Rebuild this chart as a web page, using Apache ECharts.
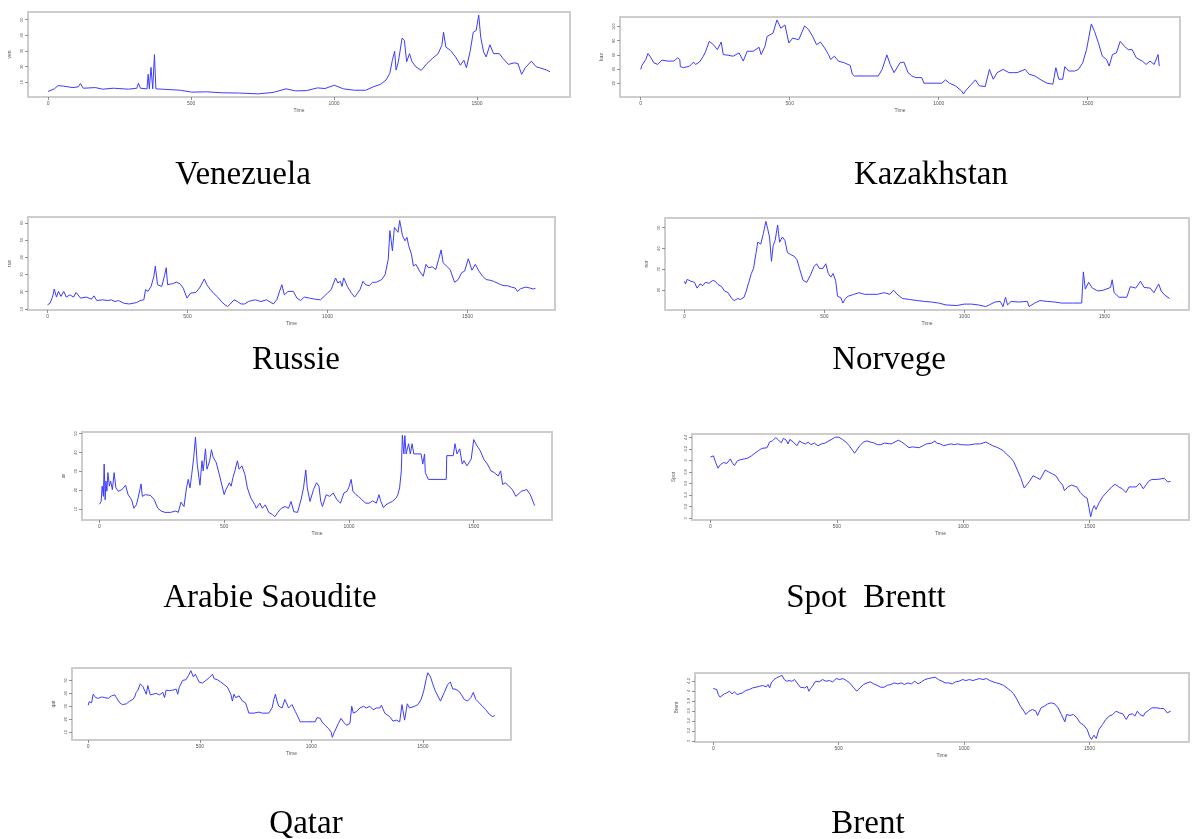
<!DOCTYPE html>
<html><head><meta charset="utf-8">
<script src="https://cdn.jsdelivr.net/npm/echarts@6/dist/echarts.min.js"></script>
<style>html,body{margin:0;padding:0;background:#fff}#c{width:1192px;height:839px}</style>
</head><body><div id="c"></div>
<script>
// ---- data: [time index, value] ----
const venezuela = [[0,4.1],[22,5.8],[35,7.9],[54,7.5],[87,6.6],[106,7.1],[113,9.2],[123,6.2],[165,6.6],[169,7.1],[191,5.6],[229,6.2],[281,5.6],[310,6.2],[316,9.4],[323,6.2],[346,5.8],[350,15.1],[354,5.8],[360,19.5],[366,5.8],[372,27.7],[377,5.8],[398,5.6],[463,4.9],[502,3.7],[554,3.9],[605,3.3],[670,3.1],[735,2.6],[787,3.5],[832,5.8],[865,4.5],[904,4.7],[942,6.4],[968,6.0],[1001,8.1],[1033,5.8],[1072,4.9],[1111,4.9],[1137,7.1],[1163,8.7],[1182,11.5],[1195,15.7],[1204,24.1],[1212,29.8],[1217,17.8],[1225,23.1],[1238,38.2],[1246,36.7],[1254,23.1],[1264,28.3],[1273,23.1],[1286,19.9],[1305,17.6],[1325,22.0],[1344,25.2],[1364,28.3],[1377,33.6],[1383,42.0],[1391,32.5],[1407,30.4],[1425,26.2],[1442,20.9],[1454,24.1],[1463,19.3],[1476,29.8],[1487,42.0],[1497,43.1],[1506,52.9],[1513,38.8],[1523,29.4],[1532,26.2],[1545,34.0],[1558,28.3],[1578,28.3],[1591,25.2],[1610,21.4],[1630,22.4],[1643,22.0],[1656,15.1],[1669,19.3],[1690,23.5],[1707,19.9],[1727,18.8],[1744,17.8],[1755,16.7]];
const kazakhstan = [[0,39.5],[4,45.1],[17,53.5],[24,61.9],[31,58.1],[44,48.8],[57,46.5],[71,52.6],[91,51.2],[111,51.2],[124,55.8],[131,53.5],[133,43.3],[144,41.9],[164,44.2],[177,49.8],[184,46.5],[197,49.8],[210,58.1],[217,64.2],[230,79.1],[244,74.4],[257,67.4],[270,78.1],[277,60.5],[293,59.5],[310,58.1],[330,62.8],[344,51.2],[357,65.1],[377,65.1],[397,70.7],[404,60.5],[417,72.1],[424,86.0],[444,90.7],[457,109.3],[470,97.7],[484,102.3],[497,76.7],[510,83.7],[530,81.4],[550,100.9],[564,95.3],[577,86.0],[590,74.4],[603,78.1],[617,69.8],[630,60.5],[637,53.5],[650,58.1],[663,51.2],[683,48.8],[703,45.1],[710,32.6],[717,30.2],[757,30.2],[797,30.2],[810,39.5],[826,60.0],[837,46.5],[850,34.9],[870,48.8],[883,49.8],[897,34.9],[910,30.2],[923,27.9],[943,27.9],[950,20],[1010,20],[1023,24.7],[1036,20],[1056,16.3],[1076,9.3],[1083,4.7],[1090,9.3],[1110,18.6],[1123,24.7],[1136,16.3],[1156,15.3],[1170,39.5],[1183,25.6],[1196,34.9],[1216,39.5],[1236,34.9],[1250,34.9],[1263,34.9],[1290,39.5],[1303,32.6],[1323,30.2],[1343,24.7],[1363,20],[1383,18.6],[1393,41.9],[1403,25.6],[1416,25.6],[1423,43.3],[1436,37.2],[1456,37.2],[1469,39.5],[1483,48.8],[1496,67.4],[1512,103.7],[1523,93.0],[1536,76.7],[1549,58.1],[1563,53.5],[1572,44.2],[1583,60.5],[1596,62.8],[1609,79.1],[1623,72.1],[1636,67.4],[1649,67.4],[1663,55.8],[1683,51.2],[1696,46.5],[1709,51.2],[1723,46.5],[1736,60.5],[1740,44.2]];
const russie = [[0,12.4],[9,13.3],[19,17.6],[24,21.6],[32,16.9],[39,20.2],[48,17.3],[58,20.2],[67,16.9],[80,18.2],[93,16.9],[102,19.6],[118,16.3],[138,16.9],[157,15.7],[166,17.6],[176,14.9],[196,15.3],[215,14.9],[228,15.3],[241,14.3],[254,14.9],[273,13.3],[292,12.9],[318,13.7],[331,14.9],[344,15.3],[350,21.2],[359,20.2],[370,23.1],[380,29.0],[385,34.9],[393,24.1],[408,23.1],[418,29.4],[424,33.9],[429,24.1],[447,24.7],[460,25.5],[473,24.7],[485,22.0],[498,16.3],[511,19.2],[530,19.6],[543,22.2],[560,27.4],[569,24.1],[582,21.2],[595,18.8],[608,16.9],[621,14.3],[634,12.4],[643,11.4],[653,12.9],[666,15.3],[679,14.3],[691,12.9],[704,12.9],[717,14.3],[730,14.9],[743,15.3],[762,14.3],[782,15.3],[807,12.9],[820,15.7],[830,20.8],[837,24.1],[846,18.2],[859,20.2],[878,20.2],[891,16.3],[904,14.9],[917,16.9],[936,16.3],[955,15.7],[975,15.3],[988,17.3],[1000,19.2],[1013,21.2],[1029,28.0],[1037,25.1],[1046,26.1],[1052,23.1],[1058,28.0],[1071,23.1],[1084,19.6],[1097,16.9],[1103,18.2],[1116,21.2],[1127,26.1],[1136,24.1],[1149,23.5],[1161,25.5],[1174,25.5],[1194,27.1],[1206,30.0],[1217,38.8],[1223,55.5],[1232,43.7],[1239,57.4],[1245,58.4],[1252,54.5],[1258,61.4],[1268,52.5],[1277,49.6],[1284,51.6],[1290,46.7],[1300,41.8],[1307,34.9],[1316,35.9],[1329,32.0],[1342,29.0],[1352,35.9],[1361,33.9],[1374,34.5],[1387,32.9],[1397,38.8],[1406,44.3],[1413,36.9],[1425,34.9],[1438,32.9],[1454,25.5],[1467,27.1],[1479,31.0],[1490,32.0],[1503,39.2],[1516,32.5],[1528,35.9],[1541,32.0],[1554,29.0],[1567,27.1],[1580,26.7],[1593,26.1],[1606,25.1],[1619,24.1],[1631,23.5],[1644,23.5],[1657,22.7],[1670,22.2],[1679,20.2],[1690,21.8],[1709,22.7],[1722,22.2],[1735,21.6],[1743,22.0]];
const norvege = [[0,24.2],[4,22.9],[10,25.1],[23,24.2],[36,23.7],[45,20.9],[56,22.9],[66,22.1],[75,23.7],[88,23.2],[101,24.6],[110,24.2],[120,22.6],[133,21.6],[143,19.5],[156,18.7],[169,15.9],[178,14.9],[191,15.9],[200,15.4],[213,16.5],[221,19.5],[230,23.7],[239,27.9],[247,30.4],[256,38.0],[262,43.0],[273,42.1],[282,47.2],[291,53.0],[297,49.7],[304,45.5],[311,33.8],[317,41.3],[324,43.8],[333,51.3],[340,43.0],[350,45.5],[359,43.8],[368,38.0],[379,37.1],[391,36.3],[402,34.6],[411,30.4],[424,24.6],[437,23.7],[450,27.1],[463,31.3],[472,32.6],[482,30.4],[495,30.4],[505,32.6],[514,27.9],[523,26.2],[531,27.9],[540,24.6],[547,17.0],[559,16.2],[566,13.7],[575,15.9],[585,17.0],[605,17.9],[624,18.7],[643,17.9],[663,17.9],[689,17.9],[714,18.7],[734,17.9],[747,19.9],[760,17.9],[779,15.9],[805,15.4],[831,14.9],[857,14.5],[882,14.2],[908,13.7],[934,12.8],[973,12.5],[999,13.2],[1025,13.2],[1050,12.8],[1076,12.0],[1089,12.8],[1109,14.2],[1128,14.5],[1138,12.0],[1147,16.5],[1154,12.8],[1167,14.5],[1193,14.2],[1225,14.5],[1231,12.0],[1251,13.7],[1270,14.9],[1296,14.5],[1322,14.2],[1348,13.7],[1386,13.7],[1419,13.7],[1425,28.7],[1432,20.4],[1444,23.7],[1457,20.9],[1477,19.5],[1496,19.9],[1522,21.2],[1528,24.9],[1535,18.7],[1552,16.5],[1580,16.5],[1593,21.6],[1612,20.9],[1629,24.2],[1642,21.2],[1664,20.9],[1677,18.7],[1694,22.9],[1703,19.5],[1716,17.5],[1733,15.9]];
const arabieSaoudite = [[0,12.5],[7,14.0],[11,22.1],[16,16.7],[19,33.8],[23,14.9],[26,24.8],[30,19.4],[34,29.3],[40,22.1],[45,24.8],[52,20.3],[59,29.3],[66,21.2],[76,19.4],[90,20.3],[105,22.6],[115,17.6],[129,14.9],[138,10.4],[148,12.2],[155,15.8],[162,16.7],[167,23.3],[172,16.7],[184,17.6],[205,17.2],[220,14.9],[234,10.4],[248,8.9],[263,8.2],[284,8.2],[306,8.9],[316,8.2],[327,13.6],[339,11.3],[349,21.2],[356,25.7],[363,21.2],[370,28.4],[378,37.4],[385,48.2],[392,33.8],[399,26.6],[403,22.6],[411,35.6],[416,30.2],[425,41.9],[431,31.1],[442,35.6],[449,41.4],[456,37.4],[468,34.7],[482,27.5],[500,17.6],[507,20.3],[514,22.1],[521,23.9],[528,22.1],[535,26.6],[543,30.2],[553,35.6],[560,31.1],[571,32.9],[583,28.4],[593,21.2],[607,15.8],[622,12.5],[629,10.4],[643,13.1],[653,10.4],[665,12.2],[679,8.2],[693,7.1],[703,5.9],[715,8.2],[729,10.4],[744,11.3],[758,10.4],[768,14.0],[779,8.6],[794,8.2],[808,14.9],[818,21.2],[827,30.7],[833,21.2],[844,14.0],[858,20.3],[870,23.9],[880,22.1],[887,14.0],[894,11.3],[909,17.6],[923,16.7],[937,18.5],[952,14.9],[966,13.1],[980,18.5],[992,19.4],[999,21.2],[1009,25.7],[1016,19.4],[1028,17.6],[1038,16.7],[1052,14.9],[1067,13.1],[1081,13.1],[1095,14.3],[1110,13.1],[1120,17.6],[1128,14.0],[1138,10.7],[1148,12.2],[1160,13.1],[1174,14.0],[1189,15.8],[1196,17.6],[1203,21.2],[1210,30.2],[1214,49.1],[1220,39.2],[1224,48.9],[1229,39.2],[1239,44.6],[1246,39.2],[1253,44.6],[1260,39.2],[1289,39.2],[1296,33.8],[1303,39.2],[1306,29.3],[1318,25.7],[1390,25.7],[1392,38.3],[1418,38.3],[1425,44.6],[1433,39.2],[1444,41.9],[1454,33.8],[1461,35.6],[1473,32.9],[1490,36.5],[1500,46.8],[1512,43.7],[1526,41.0],[1540,36.5],[1555,33.8],[1569,30.2],[1583,29.3],[1598,27.5],[1608,30.2],[1616,23.0],[1626,23.9],[1641,22.1],[1655,20.3],[1669,16.7],[1691,19.4],[1713,20.3],[1727,17.6],[1744,11.8]];
const spotBrent = [[0,4.058],[12,4.077],[21,3.961],[30,3.865],[40,3.929],[51,3.961],[65,3.948],[79,4.026],[86,3.961],[95,3.910],[107,3.994],[120,4.013],[134,4.026],[148,4.039],[162,4.077],[176,4.123],[190,4.168],[203,4.206],[224,4.219],[234,4.316],[245,4.336],[259,4.394],[270,4.348],[280,4.303],[289,4.381],[300,4.348],[307,4.284],[314,4.361],[328,4.316],[342,4.252],[353,4.336],[363,4.303],[376,4.284],[387,4.316],[397,4.271],[411,4.297],[425,4.252],[439,4.284],[453,4.297],[473,4.348],[494,4.400],[508,4.400],[522,4.361],[536,4.316],[549,4.252],[560,4.187],[570,4.123],[577,4.155],[591,4.252],[605,4.316],[619,4.336],[632,4.316],[646,4.303],[660,4.271],[674,4.271],[688,4.297],[715,4.284],[743,4.348],[757,4.316],[771,4.271],[785,4.219],[798,4.232],[826,4.219],[840,4.252],[854,4.284],[875,4.297],[888,4.336],[895,4.297],[909,4.284],[923,4.252],[937,4.271],[951,4.284],[965,4.271],[978,4.284],[992,4.271],[1020,4.265],[1048,4.284],[1068,4.284],[1089,4.316],[1103,4.284],[1117,4.252],[1137,4.219],[1158,4.168],[1172,4.103],[1186,4.052],[1200,3.974],[1214,3.832],[1227,3.703],[1241,3.523],[1248,3.561],[1262,3.639],[1276,3.735],[1290,3.703],[1304,3.671],[1324,3.832],[1338,3.800],[1352,3.768],[1366,3.735],[1380,3.639],[1393,3.574],[1400,3.477],[1414,3.542],[1428,3.574],[1435,3.606],[1449,3.542],[1463,3.445],[1477,3.381],[1490,3.348],[1497,3.187],[1504,3.026],[1511,3.155],[1518,3.219],[1525,3.155],[1539,3.284],[1553,3.381],[1560,3.348],[1573,3.477],[1587,3.542],[1601,3.587],[1615,3.542],[1629,3.510],[1643,3.445],[1656,3.542],[1670,3.542],[1684,3.542],[1698,3.606],[1712,3.510],[1719,3.477],[1733,3.639],[1746,3.671],[1767,3.671],[1795,3.690],[1809,3.626],[1820,3.639]];
const qatar = [[0,30.8],[4,33.5],[15,32.7],[22,39.3],[27,40.7],[33,36.7],[45,36.1],[59,37.2],[74,36.7],[89,36.1],[104,38.0],[119,38.8],[126,36.7],[141,32.7],[153,31.3],[171,31.9],[186,34.0],[200,35.3],[208,37.2],[215,40.7],[223,42.5],[233,47.3],[245,45.2],[252,44.7],[260,39.3],[267,46.0],[278,38.8],[290,39.3],[304,39.9],[319,38.8],[334,40.7],[342,36.7],[349,42.5],[364,42.0],[379,42.5],[394,43.3],[401,39.3],[408,44.7],[423,50.0],[438,50.5],[450,54.0],[460,57.5],[471,52.7],[480,54.8],[490,51.3],[497,48.7],[512,47.9],[527,50.0],[542,52.1],[557,54.8],[564,51.3],[579,50.5],[594,48.7],[609,46.8],[624,44.7],[639,39.3],[646,34.0],[653,39.3],[661,36.7],[676,38.0],[691,34.0],[705,32.7],[720,24.7],[743,24.7],[765,25.5],[780,24.7],[809,24.7],[824,28.7],[832,35.3],[839,39.3],[846,34.0],[854,30.0],[869,28.7],[881,35.3],[887,35.3],[898,28.7],[906,27.3],[913,31.3],[928,26.0],[936,23.3],[950,18.0],[973,18.0],[1017,18.0],[1025,21.2],[1040,20.7],[1047,18.0],[1062,15.3],[1077,12.7],[1089,10.0],[1094,6.0],[1103,10.0],[1114,14.0],[1121,16.7],[1133,20.7],[1143,18.0],[1158,15.3],[1173,16.7],[1181,30.0],[1188,24.7],[1203,26.0],[1218,28.7],[1233,30.0],[1247,28.7],[1262,30.0],[1277,27.3],[1292,28.7],[1307,28.7],[1314,30.8],[1329,24.7],[1351,22.0],[1366,18.5],[1381,19.3],[1396,18.0],[1406,31.3],[1418,19.3],[1430,31.9],[1440,28.7],[1448,28.7],[1463,30.0],[1478,31.3],[1492,35.3],[1504,42.0],[1515,51.3],[1522,55.9],[1534,52.7],[1544,47.3],[1555,42.0],[1567,38.0],[1579,34.0],[1589,38.0],[1596,40.7],[1611,46.8],[1623,48.7],[1634,43.3],[1644,43.3],[1659,42.0],[1671,39.3],[1685,35.3],[1700,34.0],[1715,36.7],[1726,40.7],[1737,35.3],[1752,32.7],[1767,30.0],[1782,27.3],[1797,23.9],[1812,22.0],[1822,22.8]];
const brent = [[0,4.047],[7,4.060],[14,4.027],[20,3.927],[27,3.873],[34,3.913],[44,3.940],[54,3.960],[64,3.993],[75,3.940],[84,3.980],[95,3.927],[102,3.940],[116,3.960],[129,4.007],[143,4.027],[157,4.060],[170,4.073],[184,4.093],[197,4.107],[211,4.080],[218,4.127],[225,4.060],[231,4.160],[242,4.227],[252,4.260],[265,4.293],[275,4.307],[283,4.227],[293,4.193],[302,4.207],[313,4.193],[324,4.227],[334,4.160],[340,4.127],[347,4.073],[354,4.093],[365,4.060],[374,4.093],[381,3.993],[388,4.047],[395,4.093],[408,4.193],[422,4.180],[436,4.227],[449,4.193],[463,4.207],[476,4.180],[490,4.247],[504,4.227],[517,4.247],[531,4.207],[544,4.160],[558,4.073],[572,3.993],[585,4.060],[599,4.127],[613,4.160],[626,4.180],[640,4.140],[653,4.113],[667,4.073],[681,4.073],[694,4.113],[708,4.127],[721,4.160],[735,4.140],[749,4.160],[762,4.127],[776,4.160],[790,4.140],[803,4.193],[817,4.140],[830,4.180],[844,4.227],[858,4.247],[871,4.260],[885,4.273],[898,4.227],[912,4.193],[926,4.160],[939,4.160],[953,4.140],[966,4.180],[980,4.193],[994,4.227],[1007,4.207],[1021,4.227],[1035,4.207],[1048,4.227],[1062,4.247],[1075,4.227],[1089,4.247],[1103,4.207],[1116,4.180],[1130,4.160],[1143,4.140],[1157,4.113],[1171,4.060],[1184,4.007],[1198,3.940],[1211,3.827],[1225,3.693],[1239,3.593],[1246,3.527],[1252,3.513],[1259,3.593],[1273,3.627],[1286,3.593],[1293,3.507],[1307,3.660],[1320,3.693],[1334,3.740],[1348,3.760],[1361,3.740],[1375,3.660],[1388,3.527],[1402,3.380],[1409,3.527],[1422,3.507],[1436,3.527],[1450,3.460],[1463,3.360],[1477,3.313],[1491,3.227],[1500,3.093],[1508,3.027],[1518,3.113],[1527,3.047],[1538,3.227],[1552,3.327],[1565,3.427],[1579,3.493],[1593,3.527],[1606,3.593],[1620,3.560],[1633,3.540],[1647,3.427],[1658,3.527],[1672,3.540],[1681,3.493],[1691,3.593],[1701,3.527],[1715,3.493],[1722,3.560],[1735,3.607],[1749,3.660],[1769,3.660],[1783,3.647],[1797,3.647],[1810,3.560],[1824,3.593]];

const xTicks = [0, 500, 1000, 1500];
const yTicksVen = [10, 20, 30, 40, 50];
const yTicksKaz = [20, 40, 60, 80, 100];
const yTicksRus = [10, 20, 30, 40, 50, 60];
const yTicksNor = [10, 20, 30, 40, 50];
const yTicksAra = [10, 20, 30, 40, 50];
const yTicksSpot = [3.0, 3.2, 3.4, 3.6, 3.8, 4.0, 4.2, 4.4];
const yTicksQat = [10, 20, 30, 40, 50];
const yTicksBrent = [3.0, 3.2, 3.4, 3.6, 3.8, 4.0, 4.2];

const captions = ['Venezuela', 'Kazakhstan', 'Russie', 'Norvege', 'Arabie Saoudite', 'Spot  Brentt', 'Qatar', 'Brent'];
const yNames = ['ven', 'kaz', 'rus', 'nor', 'ar', 'Spot', 'qat', 'Brent'];

// ---- layout ----
const panels = [
  {data: venezuela, yt: yTicksVen, box: [28, 12, 542, 85], cap: [243, 175]},
  {data: kazakhstan, yt: yTicksKaz, box: [620, 17, 560, 80], cap: [931, 175]},
  {data: russie, yt: yTicksRus, box: [28, 217, 527, 93], cap: [296, 360]},
  {data: norvege, yt: yTicksNor, box: [665, 218, 524, 92], cap: [889, 360]},
  {data: arabieSaoudite, yt: yTicksAra, box: [82, 432, 470, 88], cap: [270, 598]},
  {data: spotBrent, yt: yTicksSpot, box: [692, 434, 497, 86], cap: [866, 598]},
  {data: qatar, yt: yTicksQat, box: [72, 668, 439, 72], cap: [306, 824]},
  {data: brent, yt: yTicksBrent, box: [695, 673, 494, 69], cap: [868, 824]}
];

const grid = [], xAxis = [], yAxis = [], series = [], graphic = [];
panels.forEach((p, i) => {
  const xs = p.data.map(d => d[0]), ys = p.data.map(d => d[1]);
  const x0 = Math.min(...xs), x1 = Math.max(...xs), y0 = Math.min(...ys), y1 = Math.max(...ys);
  const px = 0.04 * (x1 - x0), py = 0.04 * (y1 - y0);
  grid.push({left: p.box[0], top: p.box[1], width: p.box[2], height: p.box[3], show: true,
    borderColor: '#cdcdcd', borderWidth: 2, backgroundColor: '#fff'});
  xAxis.push({gridIndex: i, type: 'value', min: x0 - px, max: x1 + px, position: 'bottom',
    axisLine: {show: false, onZero: false}, splitLine: {show: false},
    axisTick: {show: true, customValues: xTicks, length: 3, lineStyle: {color: '#777', width: 0.8}},
    axisLabel: {customValues: xTicks, fontSize: 5, color: '#555', margin: 4, fontFamily: 'Liberation Sans',
      formatter: v => String(Math.round(v))},
    name: 'Time', nameLocation: 'middle', nameGap: 11,
    nameTextStyle: {fontSize: 5, color: '#555', fontFamily: 'Liberation Sans'}});
  yAxis.push({gridIndex: i, type: 'value', min: y0 - py, max: y1 + py, position: 'left',
    axisLine: {show: false, onZero: false}, splitLine: {show: false},
    axisTick: {show: true, customValues: p.yt, length: 3, lineStyle: {color: '#777', width: 0.8}},
    axisLabel: {customValues: p.yt, fontSize: 4, color: '#555', margin: 4, rotate: 90, fontFamily: 'Liberation Sans',
      formatter: v => String(v)},
    name: yNames[i], nameLocation: 'middle', nameGap: 16, nameRotate: 90,
    nameTextStyle: {fontSize: 5, color: '#555', fontFamily: 'Liberation Sans'}});
  series.push({type: 'line', xAxisIndex: i, yAxisIndex: i, data: p.data, showSymbol: false,
    symbol: 'none', lineStyle: {color: '#3c3cff', width: 1}, silent: true});
  graphic.push({type: 'text', x: p.cap[0], y: p.cap[1],
    style: {text: captions[i], font: '33px "Liberation Serif", "Times New Roman", serif',
      fill: '#000', textAlign: 'center', textVerticalAlign: 'middle'}});
});

const chart = echarts.init(document.getElementById('c'), null, {renderer: 'canvas'});
chart.setOption({animation: false, grid, xAxis, yAxis, series, graphic});
</script></body></html>
